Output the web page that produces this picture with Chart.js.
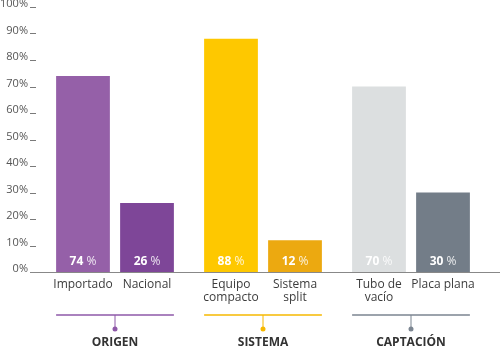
<!DOCTYPE html>
<html>
<head>
<meta charset="utf-8">
<script src="https://cdn.jsdelivr.net/npm/chart.js@4/dist/chart.umd.min.js"></script>
<style>
  html, body { margin: 0; padding: 0; background: #fff; }
  canvas { display: block; }
</style>
</head>
<body>
<canvas id="chart" width="500" height="353"></canvas>
<script>
// grupos y barras (dos barras por grupo)
const groups = ['ORIGEN', 'SISTEMA', 'CAPTACIÓN'];
const barNames = [['Importado'], ['Nacional'], ['Equipo', 'compacto'], ['Sistema', 'split'], ['Tubo de', 'vacío'], ['Placa plana']];
const values = [74, 26, 88, 12, 70, 30];
const barColors = ['#9560a8', '#7e4698', '#fec800', '#eca910', '#dcdfe0', '#737d88'];
const groupColors = ['#8e58a8', '#f6b800', '#7b8591'];
const yTickValues = [0, 10, 20, 30, 40, 50, 60, 70, 80, 90, 100];

const FONT = "'Open Sans', 'Noto Sans', sans-serif";

const datasets = [0, 1].map(k => ({
  data: groups.map((g, i) => values[i * 2 + k]),
  backgroundColor: groups.map((g, i) => barColors[i * 2 + k]),
  borderWidth: 0,
  categoryPercentage: 0.865,
  barPercentage: 0.84
}));

const decorPlugin = {
  id: 'decor',
  afterDraw(chart) {
    const ctx = chart.ctx;
    const y = chart.scales.y;
    const base = y.getPixelForValue(0);
    ctx.save();

    // marcas del eje y
    ctx.strokeStyle = '#7a7a7a';
    ctx.lineWidth = 1;
    yTickValues.forEach(v => {
      if (v === 0) return;
      const py = Math.round(y.getPixelForValue(v)) + 0.5;
      ctx.beginPath(); ctx.moveTo(30, py); ctx.lineTo(36, py); ctx.stroke();
    });
    // linea base
    ctx.strokeStyle = '#888';
    ctx.beginPath(); ctx.moveTo(30, Math.round(base) + 0.5); ctx.lineTo(chart.width, Math.round(base) + 0.5); ctx.stroke();

    const bars = [];
    groups.forEach((g, i) => {
      [0, 1].forEach(k => bars.push(chart.getDatasetMeta(k).data[i]));
    });

    // valores dentro de las barras
    ctx.textBaseline = 'middle';
    bars.forEach((b, n) => {
      const num = String(values[n]);
      ctx.font = 'bold 12px ' + FONT;
      const w1 = ctx.measureText(num + ' ').width;
      ctx.font = '12px ' + FONT;
      const w2 = ctx.measureText('%').width;
      const x0 = b.x - (w1 + w2) / 2;
      ctx.textAlign = 'left';
      ctx.fillStyle = '#fff';
      ctx.font = 'bold 12px ' + FONT;
      ctx.fillText(num, x0, base - 10);
      ctx.fillStyle = 'rgba(255,255,255,0.85)';
      ctx.font = '12px ' + FONT;
      ctx.fillText('%', x0 + w1, base - 10);
    });

    // nombres de las barras
    ctx.textAlign = 'center';
    ctx.fillStyle = '#3c3c3c';
    ctx.font = '12px ' + FONT;
    bars.forEach((b, n) => {
      barNames[n].forEach((line, j) => ctx.fillText(line, b.x, base + 13 + j * 13));
    });

    // corchetes y nombres de grupo
    groups.forEach((g, i) => {
      const b1 = bars[i * 2], b2 = bars[i * 2 + 1];
      const left = b1.x - b1.width / 2, right = b2.x + b2.width / 2;
      const cx = chart.scales.x.getPixelForValue(i);
      ctx.strokeStyle = groupColors[i];
      ctx.fillStyle = groupColors[i];
      ctx.lineWidth = 1.5;
      ctx.beginPath(); ctx.moveTo(left, base + 43); ctx.lineTo(right, base + 43); ctx.stroke();
      ctx.lineWidth = 1;
      ctx.beginPath(); ctx.moveTo(cx, base + 43); ctx.lineTo(cx, base + 56); ctx.stroke();
      ctx.beginPath(); ctx.arc(cx, base + 57, 2.5, 0, Math.PI * 2); ctx.fill();
      ctx.fillStyle = '#333';
      ctx.font = 'bold 12px ' + FONT;
      ctx.fillText(g, cx, base + 71);
    });
    ctx.restore();
  }
};

new Chart(document.getElementById('chart'), {
  type: 'bar',
  data: { labels: groups, datasets: datasets },
  options: {
    responsive: false,
    animation: false,
    layout: { padding: { top: 7, right: 15, bottom: 81, left: 0 } },
    plugins: { legend: { display: false }, tooltip: { enabled: false } },
    scales: {
      x: {
        display: false
      },
      y: {
        min: 0,
        max: 100,
        afterFit: s => { s.width = 41; s.paddingTop = 0; s.paddingBottom = 0; },
        afterBuildTicks: s => { s.ticks = yTickValues.map(v => ({ value: v })); },
        grid: { display: false, drawTicks: false },
        border: { display: false },
        ticks: {
          padding: 13,
          labelOffset: -3,
          color: '#555',
          font: { family: FONT, size: 11 },
          callback: v => v + '%'
        }
      }
    }
  },
  plugins: [decorPlugin]
});
</script>
</body>
</html>
